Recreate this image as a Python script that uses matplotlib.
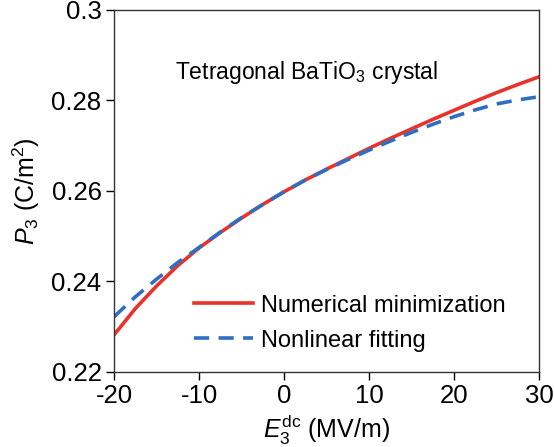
import matplotlib
matplotlib.use("Agg")
import matplotlib.pyplot as plt

# Field values (MV/m) and polarization (C/m^2)
e_field = [-20, -17.5, -15, -12.5, -10, -7.5, -5, -2.5, 0, 2.5, 5,
           7.5, 10, 12.5, 15, 17.5, 20, 22.5, 25, 27.5, 30]
p_numerical = [0.2282, 0.2340, 0.2390, 0.2435, 0.2474, 0.2508, 0.2540,
               0.2570, 0.2598, 0.2624, 0.2648, 0.2671, 0.2694, 0.2716,
               0.2737, 0.2758, 0.2778, 0.2798, 0.2817, 0.2835, 0.2852]
p_fitting = [0.2322, 0.2366, 0.2405, 0.2442, 0.2475, 0.2509, 0.2541,
             0.2570, 0.2598, 0.2624, 0.2647, 0.2669, 0.2690, 0.2710,
             0.2729, 0.2747, 0.2764, 0.2779, 0.2792, 0.2801, 0.2808]

x_ticks = [-20, -10, 0, 10, 20, 30]
y_ticks = [0.22, 0.24, 0.26, 0.28, 0.30]
y_tick_labels = ["0.22", "0.24", "0.26", "0.28", "0.3"]

plt.rcParams['font.family'] = ['Liberation Sans', 'DejaVu Sans']
plt.rcParams['mathtext.fontset'] = 'custom'
plt.rcParams['mathtext.rm'] = 'Liberation Sans'
plt.rcParams['mathtext.it'] = 'Liberation Sans:italic'
plt.rcParams['axes.unicode_minus'] = False

fig = plt.figure(figsize=(5.54, 4.47), dpi=100)
ax = fig.add_axes([0.206, 0.168, 0.767, 0.810])

ax.plot(e_field, p_numerical, color='#e8322a', lw=2.6, label='Numerical minimization')
ax.plot(e_field, p_fitting, color='#2f6fc2', lw=2.6, ls=(0, (4.2, 2.6)),
        label='Nonlinear fitting')

ax.set_xlim(-20, 30)
ax.set_ylim(0.22, 0.30)
ax.set_xticks(x_ticks)
ax.set_yticks(y_ticks)
ax.set_yticklabels(y_tick_labels)
ax.tick_params(direction='out', length=6, width=1, labelsize=18.5, pad=3)

for sp in ax.spines.values():
    sp.set_color('#333333')
    sp.set_linewidth(1)

ax.set_xlabel(r'$E_3^{\mathrm{dc}}$ (MV/m)', fontsize=18, labelpad=3)
ax.set_ylabel(r'$P_3$ (C/m$^2$)', fontsize=18, labelpad=7)

ax.text(-12.8, 0.2861, r'Tetragonal BaTiO$_3$ crystal', fontsize=16.5, va='center')

ax.legend(loc='lower left', bbox_to_anchor=(0.165, 0.03), borderaxespad=0,
          frameon=False, fontsize=17, handlelength=2.5, handletextpad=0.35,
          labelspacing=0.55)

fig.savefig('out.png', dpi=100)
